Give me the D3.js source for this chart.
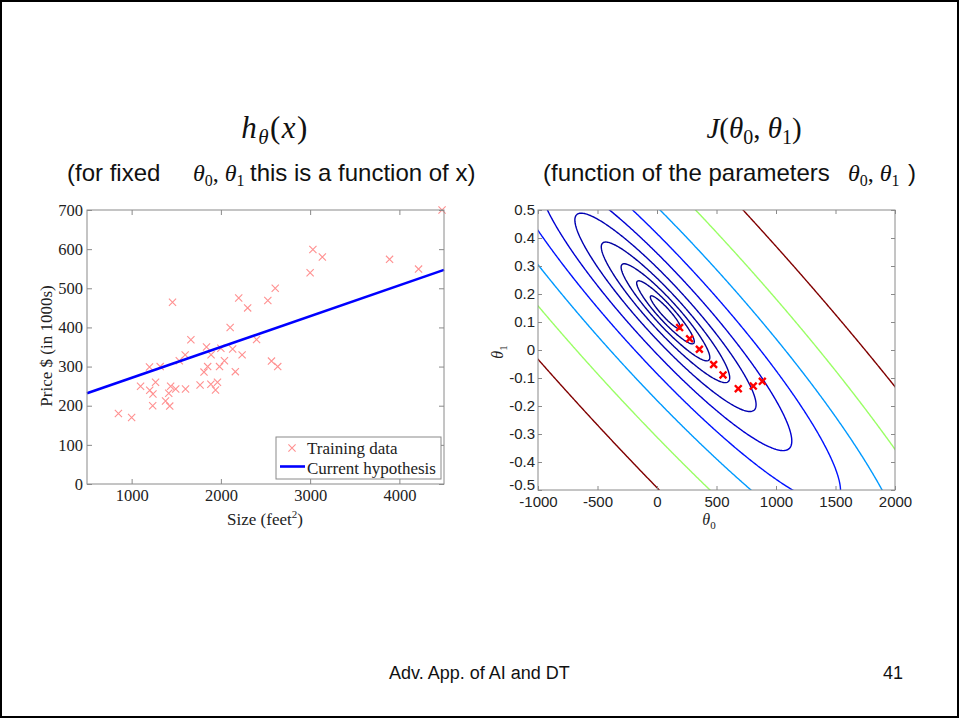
<!DOCTYPE html>
<html>
<head>
<meta charset="utf-8">
<script src="https://cdn.jsdelivr.net/npm/d3@7/dist/d3.min.js"></script>
<style>
  body { margin: 0; background: #fff; }
  svg { display: block; }
  .serif { font-family: "Liberation Serif", "Times New Roman", serif; }
  .sans { font-family: "Liberation Sans", Arial, sans-serif; }
</style>
</head>
<body>
<svg id="slide" width="960" height="719"></svg>
<script>
// training set: house size (feet^2) and price (in $1000s)
const sizes = [2104, 1600, 2400, 1416, 3000, 1985, 1534, 1427, 1380, 1494, 1940, 2000,
  1890, 4478, 1268, 2300, 1320, 1236, 2609, 3031, 1767, 1888, 1604, 1962, 3890, 1100,
  1458, 2526, 2200, 2637, 1839, 1000, 2040, 3137, 1811, 1437, 1239, 2132, 4215, 2162,
  1664, 2238, 2567, 1200, 852, 1852, 1203];
const prices = [399.9, 329.9, 369.0, 232.0, 539.9, 299.9, 314.9, 199.0, 212.0, 242.5, 240.0, 347.0,
  330.0, 699.9, 259.9, 449.9, 299.9, 199.9, 500.0, 599.0, 252.9, 255.0, 242.9, 259.9, 573.9, 249.9,
  464.5, 469.0, 475.0, 299.9, 349.9, 169.9, 314.9, 579.9, 285.9, 249.9, 229.9, 345.0, 549.0, 287.0,
  368.5, 329.9, 314.0, 299.0, 179.9, 299.9, 239.5];

// current hypothesis, read at the two ends of the plot
const hypSize = [500, 4500];
const hypPrice = [232, 547];

const sizeTicks = [1000, 2000, 3000, 4000];
const priceTicks = [0, 100, 200, 300, 400, 500, 600, 700];

// gradient descent steps on the cost plot
const gdTheta0 = [885, 809, 683, 555, 476, 356, 274, 190];
const gdTheta1 = [-0.112, -0.129, -0.138, -0.089, -0.052, 0.0025, 0.040, 0.080];

// contour levels of J
const costLevels = [3162, 5995, 11365, 21544, 40842, 77426, 146780, 278256, 527500, 1000000];
const theta0Ticks = [-1000, -500, 0, 500, 1000, 1500, 2000];
const theta1Ticks = [-0.5, -0.4, -0.3, -0.2, -0.1, 0, 0.1, 0.2, 0.3, 0.4, 0.5];

const svg = d3.select('#slide');

// slide frame
svg.append('rect').attr('x', 1).attr('y', 1).attr('width', 957).attr('height', 716)
  .attr('fill', 'none').attr('stroke', '#000').attr('stroke-width', 2);

// ---------- titles ----------
function mathRun(parent, parts) {
  parts.forEach(p => {
    const t = parent.append('tspan').text(p.t);
    if (p.it) t.attr('font-style', 'italic');
    if (p.fs) t.attr('font-size', p.fs);
    if (p.dy) t.attr('dy', p.dy);
  });
}

const hTitle = svg.append('text').attr('class', 'serif').attr('x', 275).attr('y', 138)
  .attr('text-anchor', 'middle').attr('font-size', 31).attr('letter-spacing', 1.5).attr('fill', '#111');
mathRun(hTitle, [{t: 'h', it: 1}, {t: 'θ', it: 1, fs: 21, dy: 6}, {t: '(', dy: -6}, {t: 'x', it: 1}, {t: ')'}]);

const jTitle = svg.append('text').attr('class', 'serif').attr('x', 754).attr('y', 138)
  .attr('text-anchor', 'middle').attr('font-size', 29).attr('fill', '#111');
mathRun(jTitle, [{t: 'J', it: 1}, {t: '('}, {t: 'θ', it: 1}, {t: '0', fs: 20, dy: 6}, {t: ', ', dy: -6},
  {t: 'θ', it: 1}, {t: '1', fs: 20, dy: 6}, {t: ')', dy: -6}]);

svg.append('text').attr('class', 'sans').attr('x', 67).attr('y', 181).attr('font-size', 24)
  .attr('fill', '#111').text('(for fixed');
const lMath = svg.append('text').attr('class', 'serif').attr('x', 193).attr('y', 181)
  .attr('font-size', 24).attr('fill', '#111');
mathRun(lMath, [{t: 'θ', it: 1}, {t: '0', fs: 16, dy: 5}, {t: ', ', dy: -5}, {t: 'θ', it: 1}, {t: '1', fs: 16, dy: 5}]);
svg.append('text').attr('class', 'sans').attr('x', 250).attr('y', 181).attr('font-size', 24)
  .attr('fill', '#111').text('this is a function of x)');

svg.append('text').attr('class', 'sans').attr('x', 543).attr('y', 181).attr('font-size', 24)
  .attr('fill', '#111').text('(function of the parameters');
const rMath = svg.append('text').attr('class', 'serif').attr('x', 848).attr('y', 181)
  .attr('font-size', 24).attr('fill', '#111');
mathRun(rMath, [{t: 'θ', it: 1}, {t: '0', fs: 16, dy: 5}, {t: ', ', dy: -5}, {t: 'θ', it: 1}, {t: '1', fs: 16, dy: 5}]);
svg.append('text').attr('class', 'sans').attr('x', 908).attr('y', 181).attr('font-size', 24)
  .attr('fill', '#111').text(')');

// ---------- left: training data + hypothesis ----------
const L = {left: 87, right: 444, top: 210, bottom: 484};
const xL = d3.scaleLinear().domain([500, 4500]).range([L.left, L.right]);
const yL = d3.scaleLinear().domain([0, 700]).range([L.bottom, L.top]);

const left = svg.append('g');
left.append('clipPath').attr('id', 'clipL').append('rect')
  .attr('x', L.left).attr('y', L.top - 4).attr('width', L.right - L.left + 4).attr('height', L.bottom - L.top + 4);

const pts = left.append('g').attr('clip-path', 'url(#clipL)');
const xm = 3.6;
sizes.forEach((s, i) => {
  const cx = xL(s), cy = yL(prices[i]);
  pts.append('path')
    .attr('d', `M${cx - xm},${cy - xm}L${cx + xm},${cy + xm}M${cx - xm},${cy + xm}L${cx + xm},${cy - xm}`)
    .attr('stroke', '#ff9090').attr('stroke-width', 1.1).attr('fill', 'none');
});

left.append('path')
  .datum(hypSize.map((s, i) => [s, hypPrice[i]]))
  .attr('d', d3.line().x(d => xL(d[0])).y(d => yL(d[1])))
  .attr('stroke', '#0000ff').attr('stroke-width', 2.6).attr('fill', 'none');

function styleAxis(g, font, size) {
  g.select('.domain').remove();
  g.selectAll('.tick line').attr('stroke', '#8a8a8a');
  g.selectAll('.tick text').attr('font-family', font).attr('font-size', size).attr('fill', '#222');
}
const serifF = '"Liberation Serif", "Times New Roman", serif';
const sansF = '"Liberation Sans", Arial, sans-serif';

left.append('g').attr('transform', `translate(0,${L.bottom})`)
  .call(d3.axisBottom(xL).tickValues(sizeTicks).tickSize(-5).tickPadding(5).tickFormat(d3.format('d')))
  .call(g => styleAxis(g, serifF, 16.5));
left.append('g').attr('transform', `translate(0,${L.top})`)
  .call(d3.axisTop(xL).tickValues(sizeTicks).tickSize(-5).tickFormat(''))
  .call(g => styleAxis(g, serifF, 16));
left.append('g').attr('transform', `translate(${L.left},0)`)
  .call(d3.axisLeft(yL).tickValues(priceTicks).tickSize(-5).tickPadding(4).tickFormat(d3.format('d')))
  .call(g => styleAxis(g, serifF, 16.5));
left.append('g').attr('transform', `translate(${L.right},0)`)
  .call(d3.axisRight(yL).tickValues(priceTicks).tickSize(-5).tickFormat(''))
  .call(g => styleAxis(g, serifF, 16));
left.append('rect').attr('x', L.left).attr('y', L.top).attr('width', L.right - L.left)
  .attr('height', L.bottom - L.top).attr('fill', 'none').attr('stroke', '#8a8a8a').attr('stroke-width', 1);

left.append('text').attr('class', 'serif').attr('transform', 'translate(52,346) rotate(-90)')
  .attr('text-anchor', 'middle').attr('font-size', 17).attr('fill', '#222').text('Price $ (in 1000s)');
const xlab = left.append('text').attr('class', 'serif').attr('x', 265).attr('y', 525)
  .attr('text-anchor', 'middle').attr('font-size', 17).attr('fill', '#222');
mathRun(xlab, [{t: 'Size (feet'}, {t: '2', fs: 11, dy: -7}, {t: ')', dy: 7}]);

// legend
const lg = left.append('g');
lg.append('rect').attr('x', 276).attr('y', 437).attr('width', 165).attr('height', 42)
  .attr('fill', '#fff').attr('stroke', '#8a8a8a');
lg.append('path').attr('d', `M${292 - xm},${448 - xm}L${292 + xm},${448 + xm}M${292 - xm},${448 + xm}L${292 + xm},${448 - xm}`)
  .attr('stroke', '#ff9090').attr('stroke-width', 1.1);
lg.append('text').attr('class', 'serif').attr('x', 307).attr('y', 454).attr('font-size', 17)
  .attr('fill', '#222').text('Training data');
lg.append('line').attr('x1', 280).attr('x2', 305).attr('y1', 466.5).attr('y2', 466.5)
  .attr('stroke', '#0000ff').attr('stroke-width', 2.6);
lg.append('text').attr('class', 'serif').attr('x', 307).attr('y', 474).attr('font-size', 17)
  .attr('fill', '#222').text('Current hypothesis');

// ---------- right: contours of J(theta0, theta1) ----------
const R = {left: 538, right: 895, top: 210, bottom: 490};
const xR = d3.scaleLinear().domain([-1000, 2000]).range([R.left, R.right]);
const yR = d3.scaleLinear().domain([-0.5, 0.5]).range([R.bottom, R.top]);

// cost grid, a little wider than the visible box so edges get clipped
const t0min = -1100, t0step = 10, nx = 321;
const t1min = -0.55, t1step = 0.005, ny = 221;
const m = sizes.length;
const grid = new Float64Array(nx * ny);
for (let j = 0; j < ny; j++) {
  const t1 = t1min + j * t1step;
  for (let i = 0; i < nx; i++) {
    const t0 = t0min + i * t0step;
    let s = 0;
    for (let k = 0; k < m; k++) {
      const r = t0 + t1 * sizes[k] - prices[k];
      s += r * r;
    }
    grid[i + j * nx] = s / (2 * m);
  }
}

const lo = d3.min(costLevels), hi = d3.max(costLevels);
const jet = d3.scaleLinear()
  .domain([0, 0.125, 0.375, 0.625, 0.875, 1].map(t => lo + t * (hi - lo)))
  .range(['#00008f', '#0000ff', '#00ffff', '#ffff00', '#ff0000', '#800000'])
  .clamp(true);

const contours = d3.contours().size([nx, ny]).thresholds(costLevels)(grid);
const proj = d3.geoTransform({
  point: function (x, y) {
    this.stream.point(xR(t0min + (x - 0.5) * t0step), yR(t1min + (y - 0.5) * t1step));
  }
});
const cpath = d3.geoPath(proj);

const right = svg.append('g');
right.append('clipPath').attr('id', 'clipR').append('rect')
  .attr('x', R.left).attr('y', R.top).attr('width', R.right - R.left).attr('height', R.bottom - R.top);

right.append('g').attr('clip-path', 'url(#clipR)')
  .selectAll('path').data(contours).join('path')
  .attr('d', cpath)
  .attr('fill', 'none')
  .attr('stroke', d => jet(d.value))
  .attr('stroke-width', 1.4);

const rm = 3.4;
right.append('g').selectAll('path').data(gdTheta0).join('path')
  .attr('d', (d, i) => {
    const cx = xR(d), cy = yR(gdTheta1[i]);
    return `M${cx - rm},${cy - rm}L${cx + rm},${cy + rm}M${cx - rm},${cy + rm}L${cx + rm},${cy - rm}`;
  })
  .attr('stroke', '#ff0000').attr('stroke-width', 2.4).attr('fill', 'none');

const fmt1 = d => (Math.abs(d) < 1e-9 ? '0' : String(+d.toFixed(1)));
right.append('g').attr('transform', `translate(0,${R.bottom})`)
  .call(d3.axisBottom(xR).tickValues(theta0Ticks).tickSize(-4).tickPadding(6).tickFormat(d => String(d)))
  .call(g => styleAxis(g, sansF, 15));
right.append('g').attr('transform', `translate(0,${R.top})`)
  .call(d3.axisTop(xR).tickValues(theta0Ticks).tickSize(-4).tickFormat(''))
  .call(g => styleAxis(g, sansF, 15));
right.append('g').attr('transform', `translate(${R.left},0)`)
  .call(d3.axisLeft(yR).tickValues(theta1Ticks).tickSize(-4).tickPadding(3).tickFormat(fmt1))
  .call(g => styleAxis(g, sansF, 15))
  // lift the bottom label a little so it clears "-1000"
  .call(g => g.selectAll('.tick text').filter(d => d === -0.5).attr('dy', '-0.05em'));
right.append('g').attr('transform', `translate(${R.right},0)`)
  .call(d3.axisRight(yR).tickValues(theta1Ticks).tickSize(-4).tickFormat(''))
  .call(g => styleAxis(g, sansF, 15));
right.append('rect').attr('x', R.left).attr('y', R.top).attr('width', R.right - R.left)
  .attr('height', R.bottom - R.top).attr('fill', 'none').attr('stroke', '#8a8a8a').attr('stroke-width', 1);

const t0lab = right.append('text').attr('class', 'serif').attr('x', 709).attr('y', 525)
  .attr('text-anchor', 'middle').attr('font-size', 16).attr('fill', '#222');
mathRun(t0lab, [{t: 'θ', it: 1}, {t: '0', fs: 11, dy: 4}]);
const t1lab = right.append('text').attr('class', 'serif').attr('transform', 'translate(503,352) rotate(-90)')
  .attr('text-anchor', 'middle').attr('font-size', 16).attr('fill', '#222');
mathRun(t1lab, [{t: 'θ', it: 1}, {t: '1', fs: 11, dy: 4}]);

// ---------- footer ----------
svg.append('text').attr('class', 'sans').attr('x', 389).attr('y', 679).attr('font-size', 18)
  .attr('fill', '#111').text('Adv. App. of AI and DT');
svg.append('text').attr('class', 'sans').attr('x', 903).attr('y', 679).attr('font-size', 18)
  .attr('text-anchor', 'end').attr('fill', '#111').text('41');
</script>
</body>
</html>
